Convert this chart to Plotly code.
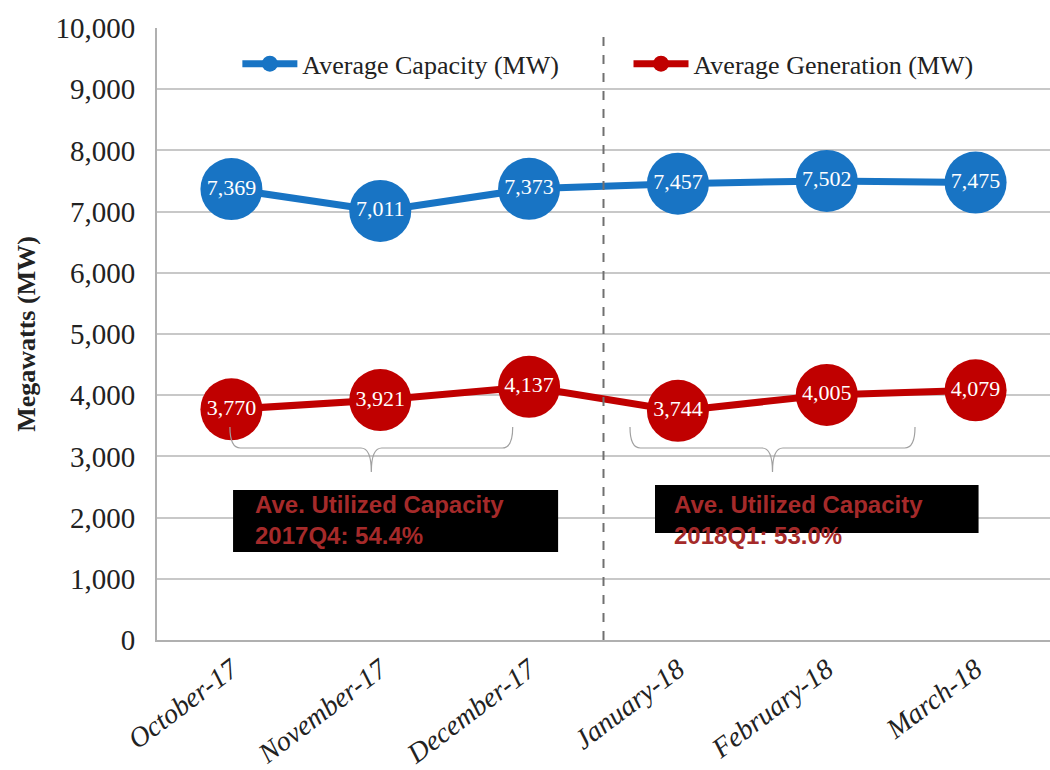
import plotly.graph_objects as go

months = ["October-17", "November-17", "December-17", "January-18", "February-18", "March-18"]
capacity = [7369, 7011, 7373, 7457, 7502, 7475]
generation = [3770, 3921, 4137, 3744, 4005, 4079]
y_ticks = [0, 1000, 2000, 3000, 4000, 5000, 6000, 7000, 8000, 9000, 10000]
note_q4 = "Ave. Utilized Capacity<br>2017Q4: 54.4%"
note_q1 = "Ave. Utilized Capacity<br>2018Q1: 53.0%"

BLUE = "#1874C4"
RED = "#C00000"
SERIF = "Liberation Serif"

x = list(range(len(months)))

fig = go.Figure()
fig.add_trace(go.Scatter(
    x=x, y=capacity, name="Average Capacity (MW)", mode="lines+markers+text",
    line=dict(color=BLUE, width=7), marker=dict(color=BLUE, size=62),
    text=[f"{v:,}" for v in capacity], textposition="middle center",
    textfont=dict(family=SERIF, size=22, color="white"), legend="legend"))
fig.add_trace(go.Scatter(
    x=x, y=generation, name="Average Generation (MW)", mode="lines+markers+text",
    line=dict(color=RED, width=7), marker=dict(color=RED, size=62),
    text=[f"{v:,}" for v in generation], textposition="middle center",
    textfont=dict(family=SERIF, size=22, color="white"), legend="legend2"))

# divider between quarters
fig.add_shape(type="line", x0=2.5, x1=2.5, y0=0, y1=10000, xref="x", yref="y",
              line=dict(color="#707070", width=2, dash="dash"))

# curly braces
def brace(xl, xr, ytop, ymid, ytip):
    xc = (xl + xr) / 2
    r = 0.07
    return (f"M {xl},{ytop} Q {xl},{ymid} {xl + r},{ymid} L {xc - r},{ymid} "
            f"Q {xc},{ymid} {xc},{ytip} Q {xc},{ymid} {xc + r},{ymid} "
            f"L {xr - r},{ymid} Q {xr},{ymid} {xr},{ytop}")

fig.add_shape(type="path", path=brace(-0.01, 1.89, 3480, 3137, 2745),
              xref="x", yref="y", line=dict(color="#A0A0A0", width=1.2))
fig.add_shape(type="path", path=brace(2.678, 4.593, 3480, 3137, 2745),
              xref="x", yref="y", line=dict(color="#A0A0A0", width=1.2))

# black note boxes
fig.add_shape(type="rect", x0=0.011, x1=2.195, y0=1438, y1=2451, xref="x", yref="y",
              fillcolor="black", line=dict(width=0), layer="above")
fig.add_shape(type="rect", x0=2.846, x1=5.02, y0=1748, y1=2533, xref="x", yref="y",
              fillcolor="black", line=dict(width=0), layer="above")

fig.add_annotation(x=0.145, y=1953, xref="x", yref="y", text=note_q4, showarrow=False,
                   xanchor="left", yanchor="middle", align="left",
                   font=dict(family="Liberation Sans", size=24, color="#A52A2A", weight="bold"))
fig.add_annotation(x=2.96, y=1961, xref="x", yref="y", text=note_q1, showarrow=False,
                   xanchor="left", yanchor="middle", align="left",
                   font=dict(family="Liberation Sans", size=24, color="#A52A2A", weight="bold"))

legend_style = dict(orientation="h", y=0.98, xanchor="left", yanchor="top", itemwidth=55,
                    font=dict(family=SERIF, size=26, color="#222"), bgcolor="rgba(0,0,0,0)")

fig.update_layout(
    width=1050, height=770,
    margin=dict(l=157, r=0, t=28, b=130),
    paper_bgcolor="white", plot_bgcolor="white",
    showlegend=True,
    legend=dict(x=0.09, **legend_style),
    legend2=dict(x=0.528, **legend_style),
    xaxis=dict(range=[-0.5, 5.5], tickvals=x, ticktext=months, tickangle=-37,
               tickfont=dict(family=SERIF, size=28, color="#222", style="italic"),
               showgrid=False, showline=True, linecolor="#B0B0B0", linewidth=2,
               ticks="", zeroline=False),
    yaxis=dict(range=[0, 10000], tickvals=y_ticks, tickformat=",",
               tickfont=dict(family=SERIF, size=29, color="#222"),
               showgrid=True, gridcolor="#C8C8C8", gridwidth=2,
               showline=True, linecolor="#B0B0B0", linewidth=2, zeroline=False,
               ticks="", ticklabelstandoff=14,
               title=dict(text="<b>Megawatts (MW)</b>", font=dict(family=SERIF, size=26, color="#222"),
                          standoff=12)),
)

fig.write_html("out.html")
